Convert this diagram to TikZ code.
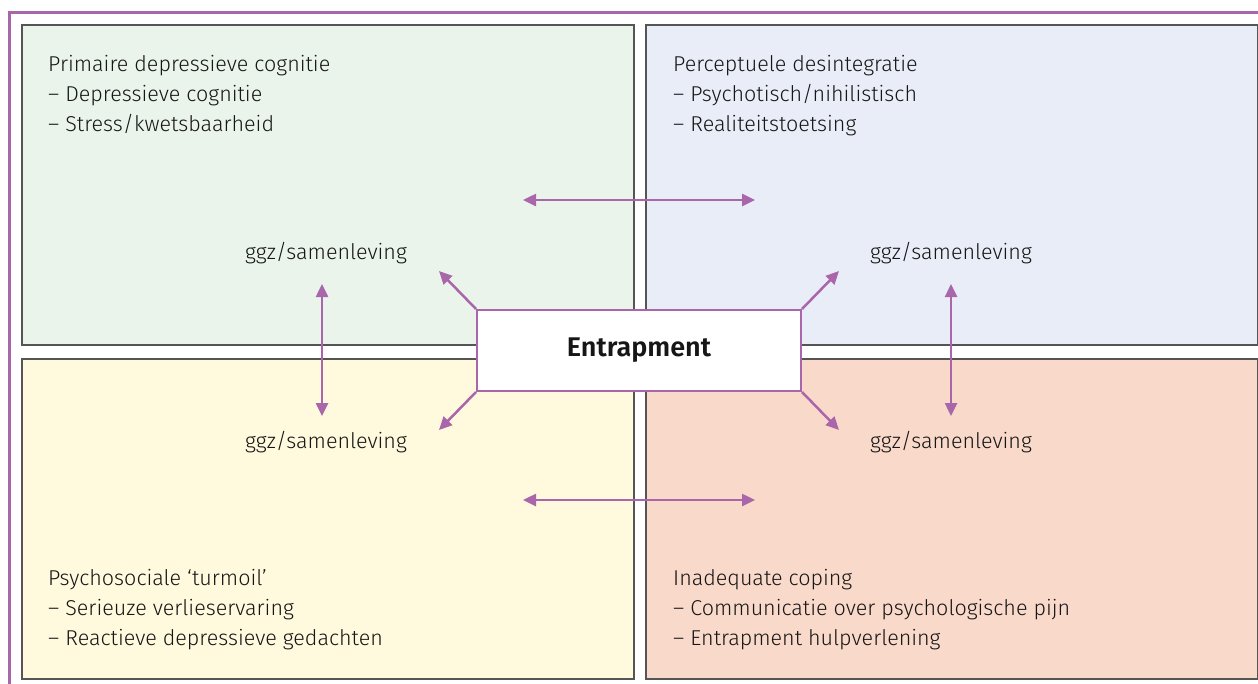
\documentclass[tikz,border=0pt]{standalone}
\usepackage{fontspec}
\setmainfont{Fira Sans Light}[BoldFont={Fira Sans SemiBold}]
\usetikzlibrary{arrows.meta}
\definecolor{purp}{HTML}{A966AA}
\definecolor{fgreen}{HTML}{EAF4EA}
\definecolor{fblue}{HTML}{E9EDF8}
\definecolor{fyellow}{HTML}{FFF9DD}
\definecolor{fpeach}{HTML}{F9D9CA}
\definecolor{bord}{HTML}{555555}
\definecolor{txt}{HTML}{161616}
\tikzset{
  quad/.style={draw=bord, line width=1.5pt, minimum width=612pt, minimum height=320pt, anchor=north west, inner sep=0pt},
  body/.style={anchor=base west, align=left, font=\fontsize{21.5}{30}\selectfont, text=txt, inner sep=0pt},
  lbl/.style={font=\fontsize{21.5}{26}\selectfont, text=txt, inner sep=0pt},
  arr/.style={draw=purp, line width=2.5pt, {Triangle[length=13pt,width=12pt]}-{Triangle[length=13pt,width=12pt]}},
  sarr/.style={draw=purp, line width=2.5pt, -{Triangle[length=13pt,width=12pt]}}
}
\begin{document}
\begin{tikzpicture}[x=1pt,y=-1pt]
\useasboundingbox (0,0) rectangle (1258,683);
\draw[purp, line width=3pt] (9,700) -- (9,12) -- (1270,12);
\node[quad, fill=fgreen] (tl) at (21,24) {};
\node[quad, fill=fblue] (tr) at (645,24) {};
\node[quad, fill=fyellow] (bl) at (21,358) {};
\node[quad, fill=fpeach] (br) at (645,358) {};
\node[body] (tlt) at (48,131) {Primaire depressieve cognitie\\– Depressieve cognitie\\– Stress/kwetsbaarheid};
\node[body] (trt) at (673,131) {Perceptuele desintegratie\\– Psychotisch/nihilistisch\\– Realiteitstoetsing};
\node[body] (blt) at (48,645) {Psychosociale ‘turmoil’\\– Serieuze verlieservaring\\– Reactieve depressieve gedachten};
\node[body] (brt) at (673,645) {Inadequate coping\\– Communicatie over psychologische pijn\\– Entrapment hulpverlening};
\node[lbl] (g1) at (326,253) {ggz/samenleving};
\node[lbl] (g2) at (951,253) {ggz/samenleving};
\node[lbl] (g3) at (326,442) {ggz/samenleving};
\node[lbl] (g4) at (951,442) {ggz/samenleving};
\node[draw=purp, line width=2pt, fill=white, minimum width=324pt, minimum height=81pt, font=\fontsize{27}{32}\selectfont\bfseries, text=txt] (e) at (639,350.5) {Entrapment};
\coordinate (h1a) at (523,200); \coordinate (h1b) at (755,200);
\coordinate (h2a) at (523,500); \coordinate (h2b) at (755,500);
\coordinate (v1a) at (322,284); \coordinate (v1b) at (322,416);
\coordinate (v2a) at (951,284); \coordinate (v2b) at (951,416);
\coordinate (d1) at (439,271); \coordinate (d2) at (839,271);
\coordinate (d3) at (439,430); \coordinate (d4) at (839,430);
\draw[arr] (h1a) -- (h1b);
\draw[arr] (h2a) -- (h2b);
\draw[arr] (v1a) -- (v1b);
\draw[arr] (v2a) -- (v2b);
\draw[sarr] (e.north west) -- (d1);
\draw[sarr] (e.north east) -- (d2);
\draw[sarr] (e.south west) -- (d3);
\draw[sarr] (e.south east) -- (d4);
\end{tikzpicture}
\end{document}
